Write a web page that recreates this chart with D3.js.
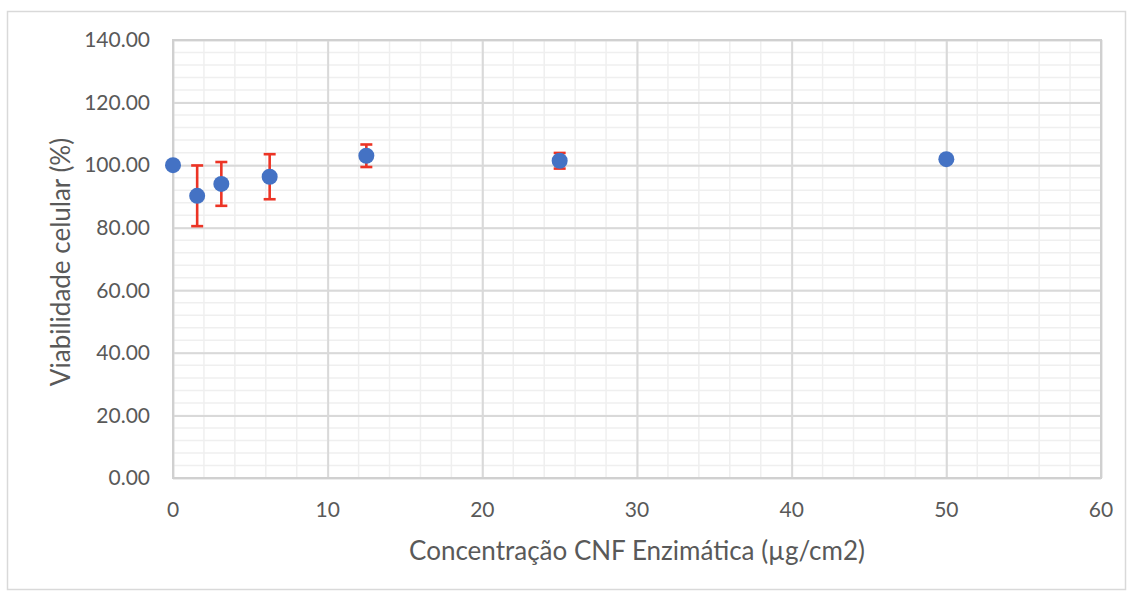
<!DOCTYPE html>
<html>
<head>
<meta charset="utf-8">
<script src="https://d3js.org/d3.v7.min.js"></script>
<style>
  body { margin: 0; background: #fff; }
  text { font-family: Lato, "Open Sans", sans-serif; fill: #595959; }
</style>
</head>
<body>
<script>
// data
var conc = [0, 1.5625, 3.125, 6.25, 12.5, 25, 50];
var viab = [100.0, 90.2, 94.0, 96.3, 103.0, 101.4, 101.9];
var err  = [0, 9.7, 7.0, 7.2, 3.6, 2.5, 0.8];
var xTicks = [0, 10, 20, 30, 40, 50, 60];
var yTicks = [0, 20, 40, 60, 80, 100, 120, 140];

var width = 1132, height = 593;
var pLeft = 173, pRight = 1101, pTop = 40, pBottom = 478;

var svg = d3.select("body").append("svg")
    .attr("width", width)
    .attr("height", height);

// outer chart frame
svg.append("rect")
    .attr("x", 7.5).attr("y", 11.5)
    .attr("width", 1118).attr("height", 578)
    .attr("fill", "#fff")
    .attr("stroke", "#d9d9d9")
    .attr("stroke-width", 1.5);

var x = d3.scaleLinear().domain([0, 60]).range([pLeft, pRight]);
var y = d3.scaleLinear().domain([0, 140]).range([pBottom, pTop]);

// minor gridlines
svg.append("g").selectAll("line")
    .data(d3.range(0, 61, 2))
    .enter().append("line")
    .attr("x1", function(d) { return x(d); }).attr("x2", function(d) { return x(d); })
    .attr("y1", pTop).attr("y2", pBottom)
    .attr("stroke", "#efefef").attr("stroke-width", 1.5);
svg.append("g").selectAll("line")
    .data(d3.range(0, 141, 4))
    .enter().append("line")
    .attr("y1", function(d) { return y(d); }).attr("y2", function(d) { return y(d); })
    .attr("x1", pLeft).attr("x2", pRight)
    .attr("stroke", "#efefef").attr("stroke-width", 1.5);

// major gridlines via axes
svg.append("g")
    .attr("transform", "translate(0," + pBottom + ")")
    .call(d3.axisBottom(x).tickValues(xTicks).tickSize(-(pBottom - pTop)).tickFormat(""))
    .call(function(g) {
      g.select(".domain").remove();
      g.selectAll("line").attr("stroke", "#d9d9d9").attr("stroke-width", 2);
    });
svg.append("g")
    .attr("transform", "translate(" + pLeft + ",0)")
    .call(d3.axisLeft(y).tickValues(yTicks).tickSize(-(pRight - pLeft)).tickFormat(""))
    .call(function(g) {
      g.select(".domain").remove();
      g.selectAll("line").attr("stroke", "#d9d9d9").attr("stroke-width", 2);
    });

// plot area border
svg.append("rect")
    .attr("x", pLeft).attr("y", pTop)
    .attr("width", pRight - pLeft).attr("height", pBottom - pTop)
    .attr("fill", "none")
    .attr("stroke", "#d0d0d0")
    .attr("stroke-width", 2);

// tick labels
svg.append("g").selectAll("text")
    .data(yTicks)
    .enter().append("text")
    .attr("x", 150)
    .attr("y", function(d) { return y(d); })
    .attr("dy", "0.35em")
    .attr("text-anchor", "end")
    .style("font-size", "21px")
    .text(function(d) { return d3.format(".2f")(d); });

svg.append("g").selectAll("text")
    .data(xTicks)
    .enter().append("text")
    .attr("x", function(d) { return x(d); })
    .attr("y", 510)
    .attr("dy", "0.35em")
    .attr("text-anchor", "middle")
    .style("font-size", "21px")
    .text(function(d) { return d; });

// axis titles
svg.append("text")
    .attr("x", 637).attr("y", 551)
    .attr("dy", "0.35em")
    .attr("text-anchor", "middle")
    .style("font-size", "26px")
    .text("Concentração CNF Enzimática (µg/cm2)");

svg.append("text")
    .attr("transform", "translate(61,262) rotate(-90)")
    .attr("dy", "0.35em")
    .attr("text-anchor", "middle")
    .style("font-size", "26px")
    .text("Viabilidade celular (%)");

// error bars
var pts = conc.map(function(c, i) { return { x: c, y: viab[i], e: err[i] }; });
var eb = svg.append("g").attr("stroke", "#ec3425").attr("stroke-width", 2.6);
pts.filter(function(d) { return d.e > 0; }).forEach(function(d) {
  var cx = x(d.x);
  eb.append("line").attr("x1", cx).attr("x2", cx).attr("y1", y(d.y + d.e)).attr("y2", y(d.y - d.e));
  eb.append("line").attr("x1", cx - 6).attr("x2", cx + 6).attr("y1", y(d.y + d.e)).attr("y2", y(d.y + d.e));
  eb.append("line").attr("x1", cx - 6).attr("x2", cx + 6).attr("y1", y(d.y - d.e)).attr("y2", y(d.y - d.e));
});

// points
svg.append("g").selectAll("circle")
    .data(pts)
    .enter().append("circle")
    .attr("cx", function(d) { return x(d.x); })
    .attr("cy", function(d) { return y(d.y); })
    .attr("r", 8)
    .attr("fill", "#4472c4");
</script>
</body>
</html>
